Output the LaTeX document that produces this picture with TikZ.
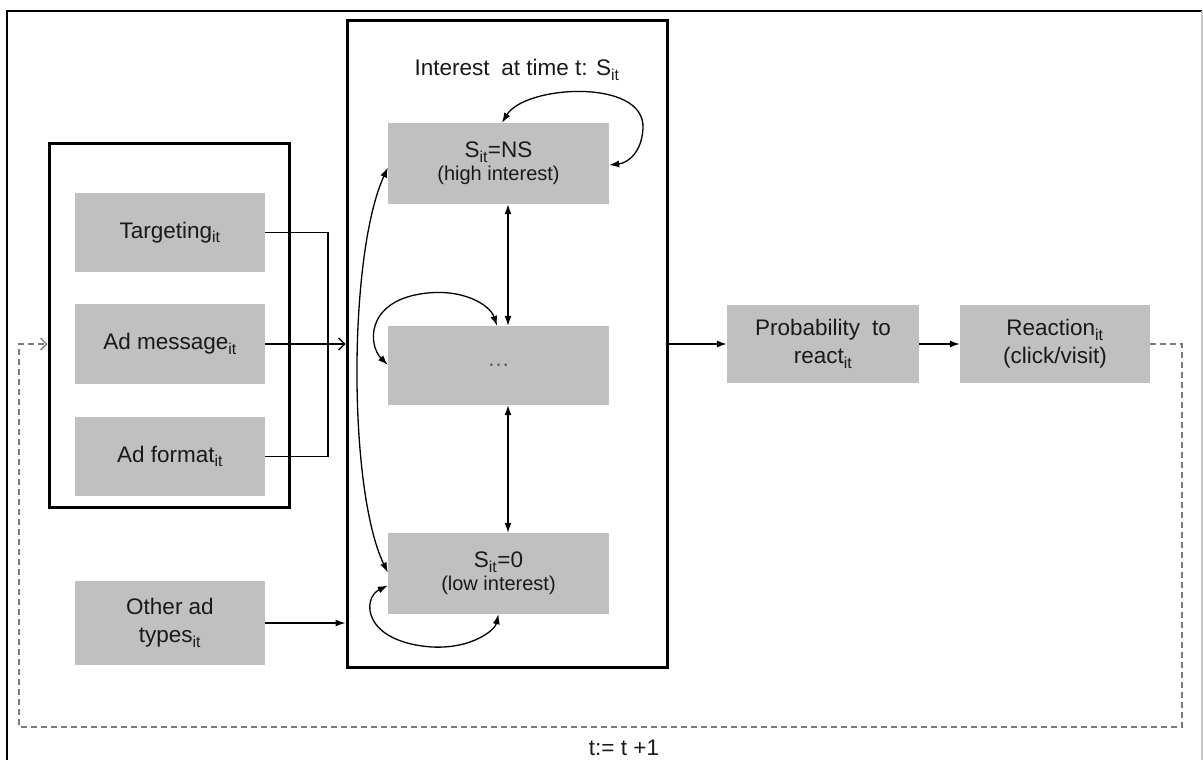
\documentclass[tikz,border=0pt]{standalone}
\usepackage{fontspec}
\setmainfont{Liberation Sans}
\usetikzlibrary{arrows.meta,calc}
\newcommand\sbit{\textsubscript{it}}
\newcommand\notefont{\fontsize{20}{22}\selectfont}
\definecolor{boxgray}{HTML}{C0C0C0}
\definecolor{dashgray}{HTML}{7A7A7A}
\definecolor{edgegray}{HTML}{C8C8C8}
\begin{document}
\begin{tikzpicture}[x=1pt,y=-1pt,
  every node/.style={font=\fontsize{22.5}{28}\selectfont, inner sep=0pt, align=center, text=black!90},
  graybox/.style={fill=boxgray, draw=none, minimum width=190pt, minimum height=79pt},
  statebox/.style={fill=boxgray, draw=none, minimum width=221pt, minimum height=80pt},
  groupbox/.style={draw=black, line width=3pt, fill=none},
  conn/.style={line width=1.3pt, -{Latex[length=10pt,width=7pt]}},
  openconn/.style={line width=1.3pt, -{Straight Barb[length=6pt,width=12pt,line width=1.3pt]}},
  both/.style={line width=1.3pt, {Latex[length=10pt,width=7pt]}-{Latex[length=10pt,width=7pt]}},
  feedback/.style={line width=1.8pt, draw=dashgray, dash pattern=on 6pt off 4pt}
]
\useasboundingbox (0,0) rectangle (1203,760);

% outer frame
\draw[line width=2.5pt] (7,760) -- (7,11) -- (1202,11);
\draw[line width=1.5pt, edgegray] (1202,11) -- (1202,760);

% grouped ad inputs
\node[groupbox, minimum width=240pt, minimum height=364pt] (grp) at (169,325) {};
\node[graybox] (tg) at (170,232.5) {Targeting\sbit};
\node[graybox, minimum height=80pt] (am) at (170,344) {Ad message\sbit};
\node[graybox] (af) at (170,456.5) {Ad format\sbit};
\node[graybox, minimum height=84pt] (oa) at (170,623) {Other ad\\types\sbit};

% interest states
\node[groupbox, minimum width=320pt, minimum height=646pt] (mid) at (507,344) {};
\node (title) at (517,70) {Interest\hspace{0.25em} at time t: S\sbit};
\node[statebox, minimum height=81pt] (ns) at (498.5,163.5) {S\sbit=NS\\[-5pt]{\notefont (high interest)}};
\node[statebox, minimum height=79pt] (dots) at (498.5,365.5) {\textcolor{black!65}{\ldots}};
\node[statebox, minimum height=81pt] (low) at (498.5,573.5) {S\sbit=0\\[-5pt]{\notefont (low interest)}};

% outcome
\node[graybox, minimum width=192pt, minimum height=78pt] (prob) at (823,344) {Probability\hspace{0.25em} to\\react\sbit};
\node[graybox, minimum height=78pt] (re) at (1055,344) {Reaction\sbit\\(click/visit)};

% inputs into the state block
\coordinate (bus) at (328,0);
\draw[line width=1.3pt] (tg.east) -| (bus |- af.east) -- (af.east);
\draw[openconn] (am.east) -- (mid.west |- am.east);
\draw[conn] (oa.east) -- (oa.east -| mid.west);

% transitions between states
\draw[both] ($(ns.south)+(9.5,0)$) -- ($(dots.north)+(9.5,0)$);
\draw[both] ($(dots.south)+(9.5,0)$) -- ($(low.north)+(9.5,0)$);
\draw[both] ($(ns.north)+(3.5,0)$) .. controls (525,85) and (645,78) .. (643,128)
  .. controls (642,152) and (628,163) .. ($(ns.east)+(0,1.5)$);
\draw[both] ($(dots.west)+(0,-0.5)$) .. controls (368,345) and (366,303) .. (420,294)
  .. controls (462,287) and (490,305) .. ($(dots.north)+(-1.5,0)$);
\draw[both] ($(low.west)+(0,12)$) .. controls (362,598) and (362,642) .. (432,647)
  .. controls (472,649) and (495,630) .. ($(low.south)+(0,0)$);
\draw[both] ($(ns.west)+(0,4)$) .. controls (348,255) and (348,490) .. ($(low.west)+(0,-1)$);

% output chain
\draw[conn] (mid.east) -- (prob.west);
\draw[conn] (prob.east) -- (re.west);

% next period feedback
\coordinate (fr) at (1182,727);
\coordinate (fl) at (19,727);
\draw[feedback, -{Straight Barb[length=6pt,width=12pt,line width=1.3pt]}]
  (re.east) -| (fr) -- (fl) |- (grp.west |- am.west);
\node (tnext) at (624,748) {t:= t +1};
\end{tikzpicture}
\end{document}
